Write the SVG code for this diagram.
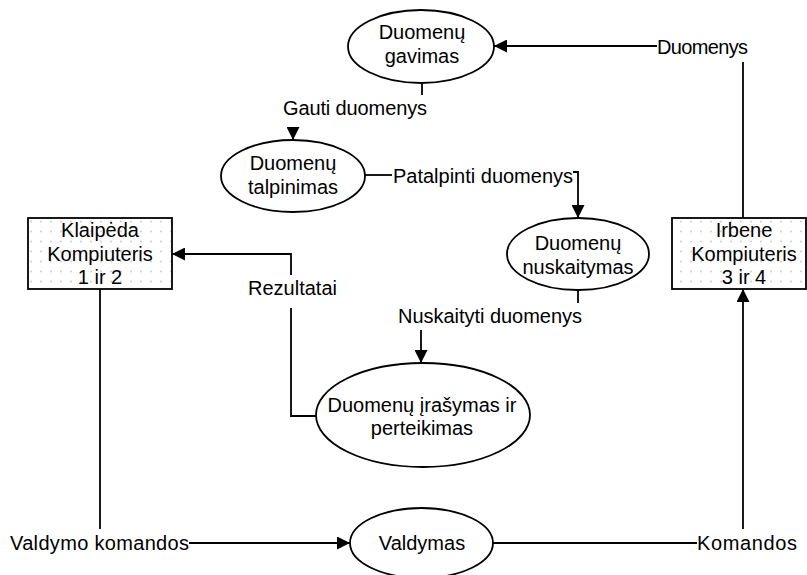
<svg xmlns="http://www.w3.org/2000/svg" width="807" height="575" viewBox="0 0 807 575">
  <style>
    .proc { fill: #ffffff; stroke: #000000; stroke-width: 1.8; }
    .store { fill: url(#dots); stroke: #000000; stroke-width: 1.8; }
    .t { font-family: "Liberation Sans", Arial, sans-serif; font-size: 20px; fill: #000000; text-anchor: middle; }
    .ts { font-family: "Liberation Sans", Arial, sans-serif; font-size: 20px; fill: #000000; }
    .flow { fill: none; stroke: #000000; stroke-width: 1.8; }
  </style>
  <defs>
    <pattern id="dots" width="10" height="10" patternUnits="userSpaceOnUse" x="28" y="218">
      <rect width="10" height="10" fill="#ffffff"/>
      <circle cx="3" cy="3.5" r="0.9" fill="#c8c8c8"/>
    </pattern>
    <marker id="arrow" markerWidth="13" markerHeight="13" refX="13" refY="6.5" orient="auto" markerUnits="userSpaceOnUse">
      <path d="M0,0 L13,6.5 L0,13 z" fill="#000000"/>
    </marker>
  </defs>

  <rect width="807" height="575" fill="#ffffff"/>

  <!-- data flows -->
  <g id="connectors">
    <path class="flow" d="M657,46 H494" marker-end="url(#arrow)"/>
    <path class="flow" d="M743,62 V218"/>
    <path class="flow" d="M422,83 V95"/>
    <path class="flow" d="M293,127 V140" marker-end="url(#arrow)"/>
    <path class="flow" d="M365,175 H392"/>
    <path class="flow" d="M573,172 H578 V218" marker-end="url(#arrow)"/>
    <path class="flow" d="M578,290 V303"/>
    <path class="flow" d="M421,330 V363" marker-end="url(#arrow)"/>
    <path class="flow" d="M316,416 H291 V308"/>
    <path class="flow" d="M291,275 V254 H172" marker-end="url(#arrow)"/>
    <path class="flow" d="M100,289 V529"/>
    <path class="flow" d="M189,543 H350" marker-end="url(#arrow)"/>
    <path class="flow" d="M493,543 H697"/>
    <path class="flow" d="M743,529 V289" marker-end="url(#arrow)"/>

    <text class="ts" x="657" y="54" textLength="91">Duomenys</text>
    <text class="ts" x="283" y="115" textLength="144">Gauti duomenys</text>
    <text class="ts" x="393" y="183" textLength="180">Patalpinti duomenys</text>
    <text class="ts" x="398" y="323" textLength="184">Nuskaityti duomenys</text>
    <text class="ts" x="248" y="295" textLength="89">Rezultatai</text>
    <text class="ts" x="10" y="550" textLength="179">Valdymo komandos</text>
    <text class="ts" x="697" y="550" textLength="100">Komandos</text>
  </g>

  <g id="gavimas">
    <ellipse class="proc" cx="421" cy="46.5" rx="73" ry="36.5"/>
    <text class="t" x="422" y="39">Duomenų</text>
    <text class="t" x="422" y="63">gavimas</text>
  </g>

  <g id="talpinimas">
    <ellipse class="proc" cx="293" cy="176" rx="72" ry="36"/>
    <text class="t" x="293" y="170">Duomenų</text>
    <text class="t" x="293" y="194">talpinimas</text>
  </g>

  <g id="nuskaitymas">
    <ellipse class="proc" cx="578" cy="254" rx="71" ry="36"/>
    <text class="t" x="578" y="250">Duomenų</text>
    <text class="t" x="578" y="274">nuskaitymas</text>
  </g>

  <g id="irasymas">
    <ellipse class="proc" cx="423" cy="415" rx="107" ry="52"/>
    <text class="t" x="422" y="412">Duomenų įrašymas ir</text>
    <text class="t" x="422" y="435">perteikimas</text>
  </g>

  <g id="valdymas">
    <ellipse class="proc" cx="421.5" cy="543" rx="71.5" ry="35"/>
    <text class="t" x="422" y="550">Valdymas</text>
  </g>

  <g id="klaipeda">
    <rect class="store" x="28" y="218" width="144" height="71"/>
    <text class="t" x="100" y="237">Klaipėda</text>
    <text class="t" x="100" y="261">Kompiuteris</text>
    <text class="t" x="100" y="284">1 ir 2</text>
  </g>

  <g id="irbene">
    <rect class="store" x="672" y="218" width="134" height="71"/>
    <text class="t" x="744" y="237">Irbene</text>
    <text class="t" x="744" y="261">Kompiuteris</text>
    <text class="t" x="744" y="284">3 ir 4</text>
  </g>
</svg>
